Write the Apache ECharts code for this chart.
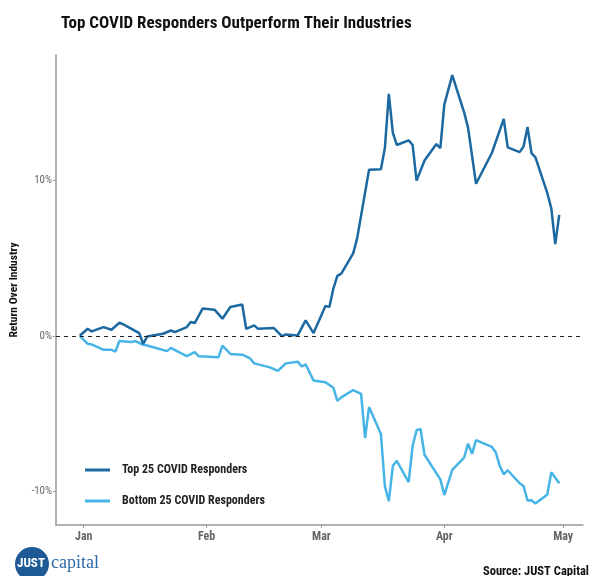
<!DOCTYPE html>
<html>
<head>
<meta charset="utf-8">
<script src="https://cdn.jsdelivr.net/npm/echarts@6/dist/echarts.min.js"></script>
<style>
  html, body { margin: 0; padding: 0; background: #fff; }
  #chart { width: 589px; height: 576px; }
</style>
</head>
<body>
<div id="chart"></div>
<script>
const FONT = "'Roboto Condensed', 'Roboto', sans-serif"

const seriesNames = ['Top 25 COVID Responders', 'Bottom 25 COVID Responders']

// top 25 - return over industry, %
const topDates = [
  '2019-12-31', '2020-01-02', '2020-01-03', '2020-01-06', '2020-01-08', '2020-01-10', '2020-01-11',
  '2020-01-15', '2020-01-16', '2020-01-17', '2020-01-21', '2020-01-23', '2020-01-24', '2020-01-27',
  '2020-01-28', '2020-01-29', '2020-01-31', '2020-02-03', '2020-02-05', '2020-02-07', '2020-02-10',
  '2020-02-11', '2020-02-13', '2020-02-14', '2020-02-18', '2020-02-20', '2020-02-21', '2020-02-24',
  '2020-02-26', '2020-02-28', '2020-03-02', '2020-03-03', '2020-03-04', '2020-03-05', '2020-03-06',
  '2020-03-09', '2020-03-10', '2020-03-13', '2020-03-16', '2020-03-17', '2020-03-18', '2020-03-19',
  '2020-03-20', '2020-03-23', '2020-03-24', '2020-03-25', '2020-03-27', '2020-03-30', '2020-03-31',
  '2020-04-01', '2020-04-03', '2020-04-06', '2020-04-07', '2020-04-09', '2020-04-13', '2020-04-16',
  '2020-04-17', '2020-04-20', '2020-04-21', '2020-04-22', '2020-04-23', '2020-04-24', '2020-04-27',
  '2020-04-28', '2020-04-29', '2020-04-30'
]
const topValues = [
  0, 0.45, 0.28, 0.56, 0.39, 0.84, 0.73,
  0.17, -0.52, -0.05, 0.13, 0.34, 0.24, 0.56,
  0.89, 0.82, 1.75, 1.68, 1.10, 1.85, 2.02,
  0.45, 0.67, 0.45, 0.50, -0.02, 0.08, 0.02,
  0.99, 0.17, 1.92, 1.86, 3.04, 3.86, 4.01,
  5.31, 6.28, 10.70, 10.74, 12.1, 15.6, 13.1,
  12.3, 12.6, 12.3, 10.0, 11.3, 12.36, 12.1,
  14.9, 16.8, 14.4, 13.4, 9.80, 11.78, 13.98,
  12.14, 11.84, 12.2, 13.46, 11.78, 11.5, 9.19,
  8.22, 5.91, 7.79
]

// bottom 25 - return over industry, %
const bottomDates = [
  '2019-12-31', '2020-01-02', '2020-01-03', '2020-01-06', '2020-01-08', '2020-01-09', '2020-01-10',
  '2020-01-13', '2020-01-14', '2020-01-16', '2020-01-17', '2020-01-22', '2020-01-23', '2020-01-25',
  '2020-01-27', '2020-01-29', '2020-01-30', '2020-02-04', '2020-02-05', '2020-02-07', '2020-02-10',
  '2020-02-12', '2020-02-13', '2020-02-17', '2020-02-19', '2020-02-21', '2020-02-24', '2020-02-25',
  '2020-02-26', '2020-02-28', '2020-03-02', '2020-03-04', '2020-03-05', '2020-03-06', '2020-03-09',
  '2020-03-11', '2020-03-12', '2020-03-13', '2020-03-16', '2020-03-17', '2020-03-18', '2020-03-19',
  '2020-03-20', '2020-03-23', '2020-03-24', '2020-03-25', '2020-03-26', '2020-03-27', '2020-03-31',
  '2020-04-01', '2020-04-03', '2020-04-06', '2020-04-07', '2020-04-08', '2020-04-09', '2020-04-13',
  '2020-04-14', '2020-04-15', '2020-04-16', '2020-04-17', '2020-04-20', '2020-04-21', '2020-04-22',
  '2020-04-23', '2020-04-24', '2020-04-27', '2020-04-28', '2020-04-30'
]
const bottomValues = [
  0, -0.52, -0.56, -0.91, -0.91, -1.02, -0.34,
  -0.41, -0.34, -0.58, -0.63, -0.99, -0.78, -1.06,
  -1.32, -1.06, -1.32, -1.39, -0.63, -1.17, -1.22,
  -1.46, -1.78, -2.04, -2.26, -1.78, -1.67, -1.98,
  -1.84, -2.89, -3.0, -3.35, -4.2, -3.97, -3.50,
  -3.75, -6.59, -4.6, -6.34, -9.69, -10.66, -8.4,
  -8.06, -9.43, -7.10, -6.09, -6.0, -7.67, -9.26,
  -10.27, -8.65, -7.85, -6.96, -7.61, -6.73, -7.17,
  -7.53, -8.4, -8.93, -8.67, -9.51, -9.69, -10.62,
  -10.6, -10.81, -10.23, -8.8, -9.51
]

const yTicks = [-10, 0, 10]
const monthStarts = ['2020-01-01', '2020-02-01', '2020-03-01', '2020-04-01', '2020-05-01']
const monthNames = ['Jan', 'Feb', 'Mar', 'Apr', 'May', 'Jun', 'Jul', 'Aug', 'Sep', 'Oct', 'Nov', 'Dec']

function toTime(s) {
  const p = s.split('-')
  return new Date(+p[0], +p[1] - 1, +p[2]).getTime()
}

const topData = topDates.map((d, i) => [toTime(d), topValues[i]])
const bottomData = bottomDates.map((d, i) => [toTime(d), bottomValues[i]])
const monthTicks = monthStarts.map(toTime)

const chart = echarts.init(document.getElementById('chart'))

chart.setOption({
  animation: false,
  title: {
    text: 'Top COVID Responders Outperform Their Industries',
    left: 56,
    top: 10,
    textStyle: { fontFamily: FONT, fontSize: 17, fontWeight: 'bold', color: '#111' }
  },
  legend: {
    data: seriesNames,
    orient: 'vertical',
    left: 80,
    top: 459,
    icon: 'rect',
    itemWidth: 25,
    itemHeight: 3,
    itemGap: 19,
    textStyle: { fontFamily: FONT, fontSize: 12, fontWeight: 'bold', color: '#222', padding: [0, 0, 0, 7] }
  },
  grid: {
    left: 56,
    right: 6,
    top: 55,
    bottom: 51,
    outerBoundsMode: 'none'
  },
  xAxis: {
    // plain value axis over timestamps so month ticks can be placed exactly
    type: 'value',
    min: toTime('2019-12-25'),
    max: toTime('2020-05-06'),
    axisLine: { onZero: false, lineStyle: { color: '#999', width: 1.5 } },
    axisTick: { show: true, customValues: monthTicks, length: 3, lineStyle: { color: '#999' } },
    splitLine: { show: false },
    axisLabel: {
      customValues: monthTicks,
      formatter: (v) => monthNames[new Date(v).getMonth()],
      fontFamily: FONT,
      fontSize: 12,
      fontWeight: 'bold',
      color: '#666',
      margin: 6
    }
  },
  yAxis: {
    type: 'value',
    min: -12.2,
    max: 18.1,
    name: 'Return Over Industry',
    nameLocation: 'middle',
    nameRotate: 90,
    nameGap: 33,
    nameTextStyle: { fontFamily: FONT, fontSize: 11.5, fontWeight: 'bold', color: '#111' },
    axisLine: { show: true, onZero: false, lineStyle: { color: '#999', width: 1.5 } },
    axisTick: { show: true, customValues: yTicks, length: 3, lineStyle: { color: '#999' } },
    splitLine: { show: false },
    axisLabel: {
      customValues: yTicks,
      formatter: (v) => v + '%',
      fontFamily: FONT,
      fontSize: 11,
      color: '#666',
      margin: 4
    }
  },
  series: [
    {
      name: seriesNames[0],
      type: 'line',
      data: topData,
      symbol: 'none',
      lineStyle: { width: 2.5, color: '#1c68a0' },
      itemStyle: { color: '#1c68a0' },
      markLine: {
        silent: true,
        symbol: 'none',
        label: { show: false },
        lineStyle: { type: [4, 4], color: '#222', width: 1 },
        data: [{ yAxis: 0 }]
      },
      z: 3
    },
    {
      name: seriesNames[1],
      type: 'line',
      data: bottomData,
      symbol: 'none',
      lineStyle: { width: 2.5, color: '#47b4e6' },
      itemStyle: { color: '#47b4e6' },
      z: 2
    }
  ],
  graphic: [
    {
      type: 'circle',
      shape: { cx: 32, cy: 564, r: 17 },
      style: { fill: '#1d5a96' }
    },
    {
      type: 'text',
      x: 31,
      y: 564,
      style: { text: 'JUST', fill: '#fff', font: "bold 13px " + FONT, align: 'center', verticalAlign: 'middle' }
    },
    {
      type: 'text',
      x: 51,
      y: 563,
      style: { text: 'capital', fill: '#2c6aa5', font: "18px 'Liberation Serif', 'DejaVu Serif', serif", verticalAlign: 'middle' }
    },
    {
      type: 'text',
      right: 0,
      top: 565,
      style: { text: 'Source: JUST Capital', fill: '#111', font: "bold 12.5px " + FONT }
    }
  ]
})
</script>
</body>
</html>
